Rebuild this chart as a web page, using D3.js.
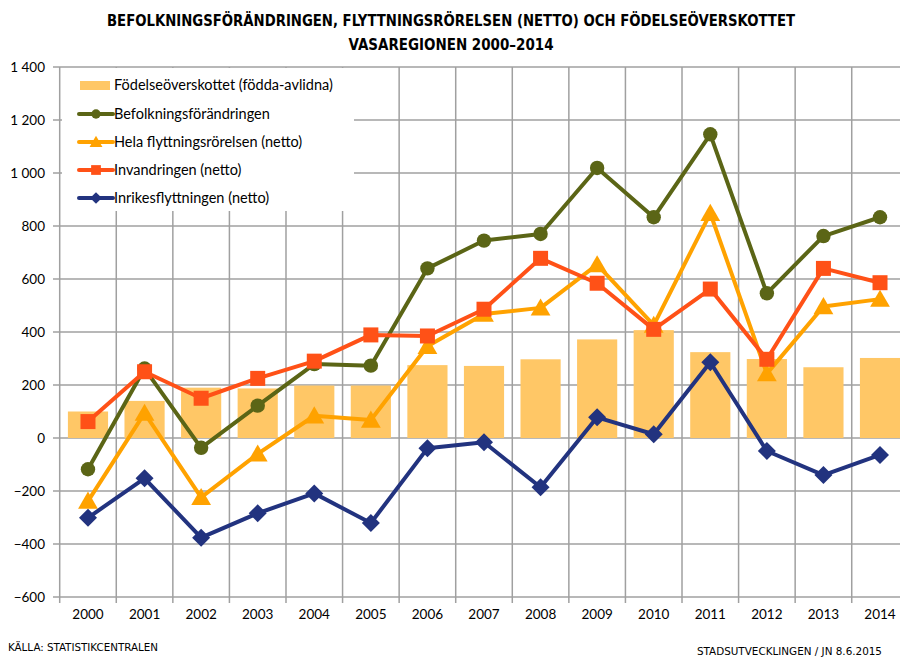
<!DOCTYPE html>
<html lang="sv">
<head>
<meta charset="utf-8">
<script src="https://d3js.org/d3.v7.min.js"></script>
<style>
body { margin: 0; background: #ffffff; }
svg text { font-family: Lato, "Open Sans", sans-serif; fill: #000; }
.title { font-family: "DejaVu Sans Condensed", "DejaVu Sans", sans-serif; font-weight: bold; font-size: 15px; }
.foot { font-family: "DejaVu Sans Condensed", "DejaVu Sans", sans-serif; font-size: 10px; }
</style>
</head>
<body>
<script>
// chart data
var years = ["2000","2001","2002","2003","2004","2005","2006","2007","2008","2009","2010","2011","2012","2013","2014"];
var fodelse = [100, 140, 190, 187, 198, 198, 275, 272, 297, 372, 407, 324, 298, 267, 302];
var befolkning = [-118, 262, -37, 122, 279, 273, 640, 745, 770, 1019, 833, 1146, 546, 762, 833];
var helaFlytt = [-238, 94, -224, -60, 84, 68, 346, 468, 491, 654, 426, 848, 243, 496, 524];
var invandring = [62, 250, 150, 225, 290, 389, 385, 486, 678, 584, 410, 562, 297, 640, 586];
var inrikes = [-301, -152, -376, -284, -209, -321, -39, -16, -186, 78, 14, 286, -49, -140, -64];
var yTicks = [-600, -400, -200, 0, 200, 400, 600, 800, 1000, 1200, 1400];

var width = 900, height = 657;

var svg = d3.select("body").append("svg")
  .attr("width", width)
  .attr("height", height);

var x = d3.scaleBand().domain(years).range([59.7, 908.3]).padding(0);
var y = d3.scaleLinear().domain([-600, 1400]).range([597, 67]);
var bw = x.bandwidth();
var cx = function(i) { return x(years[i]) + bw / 2; };

// title
svg.append("text").attr("class", "title")
  .attr("x", 451).attr("y", 26).attr("text-anchor", "middle")
  .attr("textLength", 688).attr("lengthAdjust", "spacingAndGlyphs")
  .text("BEFOLKNINGSFÖRÄNDRINGEN, FLYTTNINGSRÖRELSEN (NETTO) OCH FÖDELSEÖVERSKOTTET");
svg.append("text").attr("class", "title")
  .attr("x", 451).attr("y", 50).attr("text-anchor", "middle")
  .attr("textLength", 205).attr("lengthAdjust", "spacingAndGlyphs")
  .text("VASAREGIONEN 2000–2014");

// gridlines
var grid = svg.append("g");
grid.selectAll(".hg").data(yTicks).enter().append("line")
  .attr("x1", 53).attr("x2", width)
  .attr("y1", function(d) { return y(d); }).attr("y2", function(d) { return y(d); })
  .style("stroke", "#a0a0a0").style("stroke-width", 1.5);
var bounds = years.map(function(d) { return x(d); }).concat([x.range()[1]]);
grid.selectAll(".vg").data(bounds).enter().append("line")
  .attr("x1", function(d) { return d; }).attr("x2", function(d) { return d; })
  .attr("y1", y(1400)).attr("y2", y(-600) + 6)
  .style("stroke", "#a0a0a0").style("stroke-width", 1.5);

// y labels
svg.selectAll(".yl").data(yTicks).enter().append("text")
  .attr("x", 45).attr("y", function(d) { return y(d) + 4.5; })
  .attr("text-anchor", "end").style("font-size", "13.5px")
  .text(function(d) { return d3.format(",")(d).replace(",", " "); });

// x labels
svg.selectAll(".xl").data(years).enter().append("text")
  .attr("x", function(d) { return x(d) + bw / 2; }).attr("y", 619)
  .attr("text-anchor", "middle").style("font-size", "13.5px")
  .text(function(d) { return d; });

// bars
svg.selectAll(".bar").data(fodelse).enter().append("rect")
  .attr("x", function(d, i) { return cx(i) - bw * 0.355; })
  .attr("width", bw * 0.71)
  .attr("y", function(d) { return y(Math.max(0, d)); })
  .attr("height", function(d) { return Math.abs(y(d) - y(0)); })
  .style("fill", "#ffc766");

// marker shapes
function marker(type, s) {
  if (type === "circle") return d3.symbol().type(d3.symbolCircle).size(Math.PI * s * s)();
  if (type === "square") return "M" + (-s) + "," + (-s) + "H" + s + "V" + s + "H" + (-s) + "Z";
  if (type === "triangle") return "M0," + (-s * 1.05) + "L" + (s * 1.1) + "," + (s * 0.85) + "L" + (-s * 1.1) + "," + (s * 0.85) + "Z";
  if (type === "diamond") return "M0," + (-s * 1.2) + "L" + (s * 1.2) + ",0L0," + (s * 1.2) + "L" + (-s * 1.2) + ",0Z";
}

var series = [
  { name: "Befolkningsförändringen", values: befolkning, color: "#5b6516", shape: "circle", size: 7.2 },
  { name: "Hela flyttningsrörelsen (netto)", values: helaFlytt, color: "#ffa200", shape: "triangle", size: 9 },
  { name: "Invandringen (netto)", values: invandring, color: "#ff5117", shape: "square", size: 7.5 },
  { name: "Inrikesflyttningen (netto)", values: inrikes, color: "#22337f", shape: "diamond", size: 7.5 }
];

var line = d3.line()
  .x(function(d, i) { return cx(i); })
  .y(function(d) { return y(d); });

series.forEach(function(s) {
  var g = svg.append("g");
  g.append("path").datum(s.values)
    .attr("d", line)
    .style("fill", "none").style("stroke", s.color)
    .style("stroke-width", 4).style("stroke-linejoin", "round");
  g.selectAll("path.m").data(s.values).enter().append("path")
    .attr("class", "m")
    .attr("d", marker(s.shape, s.size))
    .attr("transform", function(d, i) { return "translate(" + cx(i) + "," + y(d) + ")"; })
    .style("fill", s.color);
});

// legend
var legend = svg.append("g");
legend.append("rect").attr("x", 62).attr("y", 68).attr("width", 292).attr("height", 143)
  .style("fill", "#fff");
legend.append("rect").attr("x", 80).attr("y", 81).attr("width", 30).attr("height", 9)
  .style("fill", "#ffc766");
legend.append("text").attr("x", 114).attr("y", 90).style("font-size", "14.5px")
  .text("Födelseöverskottet (födda-avlidna)");
var rowY = [114, 142, 170, 198];
series.forEach(function(s, k) {
  var ly = rowY[k];
  legend.append("line").attr("x1", 79).attr("x2", 113).attr("y1", ly).attr("y2", ly)
    .style("stroke", s.color).style("stroke-width", 4).style("stroke-linecap", "round");
  legend.append("path").attr("d", marker(s.shape, s.size * 0.65))
    .attr("transform", "translate(96," + ly + ")").style("fill", s.color);
  legend.append("text").attr("x", 114).attr("y", ly + 5).style("font-size", "14.5px")
    .text(s.name);
});

// footer
svg.append("text").attr("class", "foot").attr("x", 8).attr("y", 651)
  .attr("textLength", 150).attr("lengthAdjust", "spacingAndGlyphs")
  .text("KÄLLA: STATISTIKCENTRALEN");
svg.append("text").attr("class", "foot").attr("x", 882).attr("y", 655).attr("text-anchor", "end")
  .attr("textLength", 185).attr("lengthAdjust", "spacingAndGlyphs")
  .text("STADSUTVECKLINGEN / JN 8.6.2015");
</script>
</body>
</html>
